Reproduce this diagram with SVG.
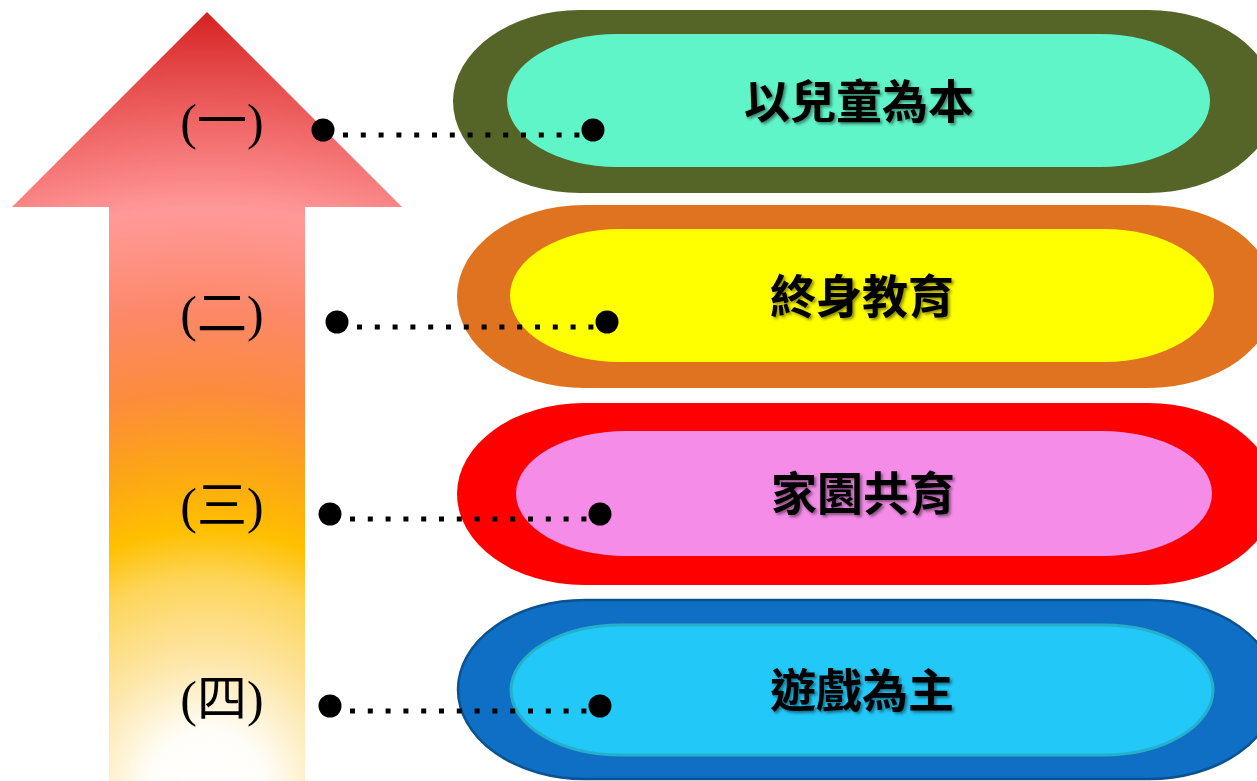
<svg xmlns="http://www.w3.org/2000/svg" width="1257" height="781" viewBox="0 0 1257 781">
<style>
.lbl{font-family:"Liberation Serif","Noto Sans CJK TC",serif;font-size:50px;fill:#000;text-anchor:middle}
.ttl{font-family:"Noto Sans CJK TC","Noto Sans CJK SC",sans-serif;font-size:46px;font-weight:bold;fill:#000;text-anchor:middle;filter:url(#sh)}
.dot{fill:#000}
.dl{stroke:#000;stroke-width:5;stroke-dasharray:5 12.8;fill:none}
</style>
<defs>
<radialGradient id="ag" gradientUnits="userSpaceOnUse" cx="207" cy="790" r="780">
<stop offset="0" stop-color="#FFFFFF"/>
<stop offset="0.077" stop-color="#FFFDF8"/>
<stop offset="0.167" stop-color="#FDE6A8"/>
<stop offset="0.27" stop-color="#FDD55A"/>
<stop offset="0.333" stop-color="#FFC000"/>
<stop offset="0.42" stop-color="#FCA417"/>
<stop offset="0.51" stop-color="#FC8C3C"/>
<stop offset="0.615" stop-color="#FC8868"/>
<stop offset="0.745" stop-color="#FF9999"/>
<stop offset="0.833" stop-color="#F47070"/>
<stop offset="0.923" stop-color="#E44848"/>
<stop offset="1" stop-color="#D42020"/>
</radialGradient>
<filter id="sh" x="-10%" y="-20%" width="120%" height="150%">
<feDropShadow dx="2" dy="2" stdDeviation="1.5" flood-color="#000" flood-opacity="0.45"/>
</filter>
</defs>
<g id="arrow">
<polygon points="207,12 402,207 305,207 305,781 109,781 109,207 12,207" fill="url(#ag)"/>
</g>
<g id="label1"><text class="lbl" x="222" y="139">(一)</text></g>
<g id="label2"><text class="lbl" x="222" y="331">(二)</text></g>
<g id="label3"><text class="lbl" x="222" y="523">(三)</text></g>
<g id="label4"><text class="lbl" x="222" y="716">(四)</text></g>
<g id="node1">
<rect x="453" y="10" width="822" height="183" rx="127" ry="91.5" fill="#556427"/>
<rect x="507" y="34" width="703" height="133" rx="110" ry="66.5" fill="#60F5C8"/>
<text class="ttl" x="859" y="118">以兒童為本</text>
</g>
<g id="node2">
<rect x="457" y="205" width="818" height="183" rx="127" ry="91.5" fill="#E07320"/>
<rect x="510" y="229" width="704" height="133" rx="110" ry="66.5" fill="#FFFF00"/>
<text class="ttl" x="862" y="313">終身教育</text>
</g>
<g id="node3">
<rect x="457" y="403" width="818" height="182" rx="127" ry="91" fill="#FF0000"/>
<rect x="516" y="431" width="696" height="125" rx="110" ry="62.5" fill="#F48CE8"/>
<text class="ttl" x="863" y="510">家園共育</text>
</g>
<g id="node4">
<rect x="458" y="600" width="818" height="179" rx="127" ry="89.5" fill="#0E6FC4" stroke="#0A5290" stroke-width="2.5"/>
<rect x="511" y="625" width="702" height="130" rx="110" ry="65" fill="#22C8F8" stroke="#26AFCB" stroke-width="3"/>
<text class="ttl" x="862" y="707">遊戲為主</text>
</g>
<g id="connectors">
<path class="dl" d="M343 135H580"/>
<circle class="dot" cx="323" cy="130" r="11.5"/>
<circle class="dot" cx="593" cy="130" r="11.5"/>
<path class="dl" d="M357 327H594"/>
<circle class="dot" cx="337" cy="322" r="11.5"/>
<circle class="dot" cx="607" cy="322" r="11.5"/>
<path class="dl" d="M350 519H587"/>
<circle class="dot" cx="330" cy="514" r="11.5"/>
<circle class="dot" cx="600" cy="514" r="11.5"/>
<path class="dl" d="M350 711H587"/>
<circle class="dot" cx="330" cy="706" r="11.5"/>
<circle class="dot" cx="600" cy="706" r="11.5"/>
</g>
</svg>
